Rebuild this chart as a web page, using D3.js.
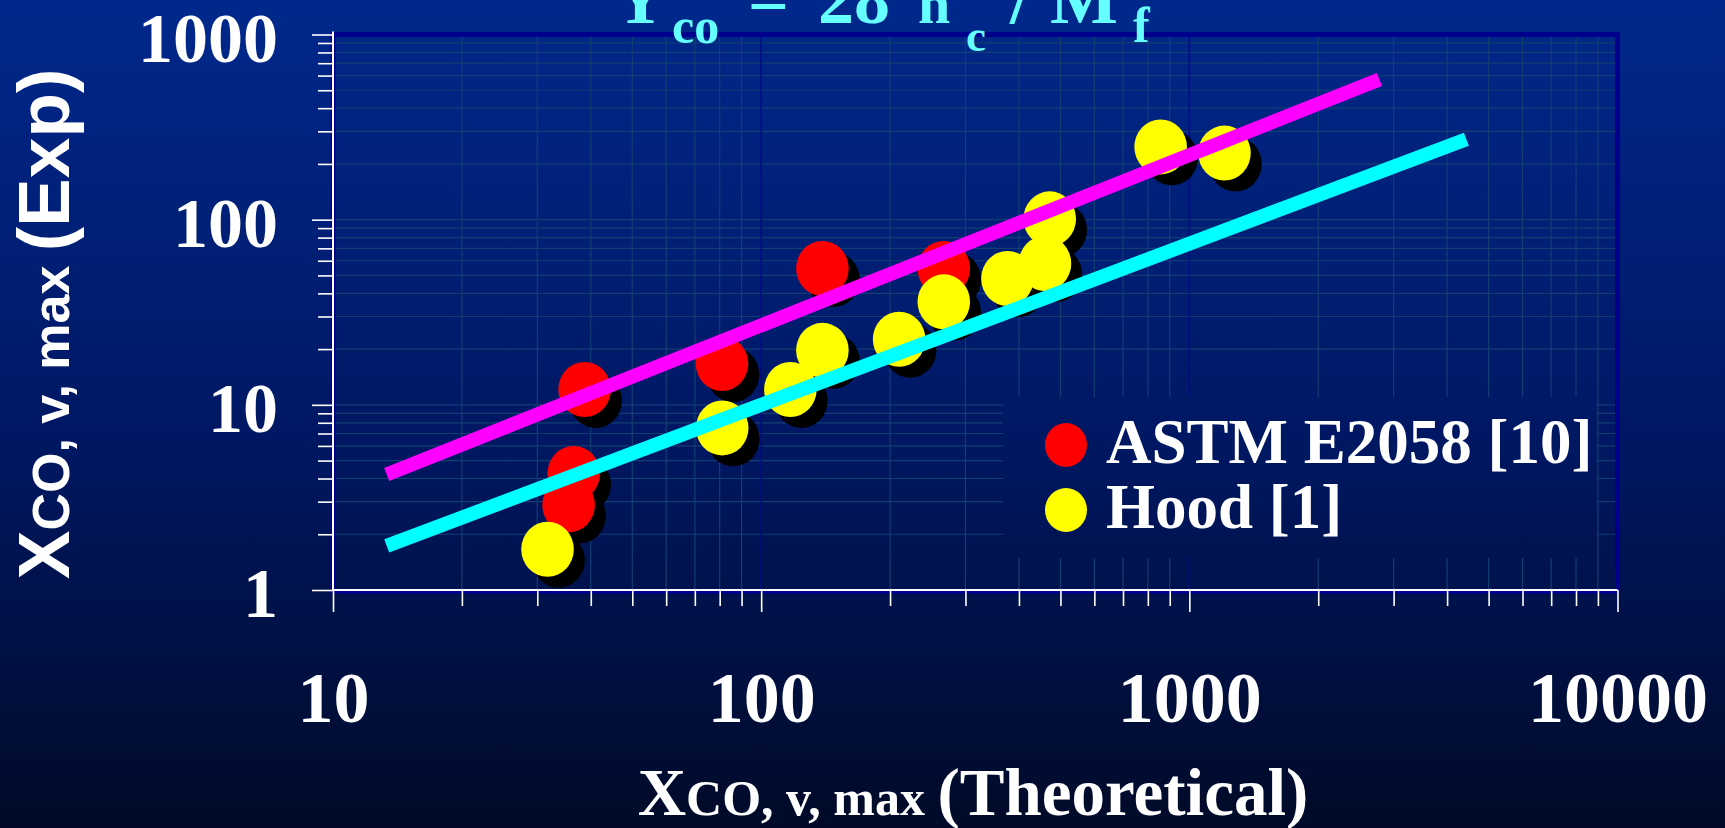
<!DOCTYPE html>
<html>
<head>
<meta charset="utf-8">
<script src="https://cdn.jsdelivr.net/npm/d3@7/dist/d3.min.js"></script>
<style>
  html, body { margin: 0; padding: 0; background: #000a2b; overflow: hidden; }
  svg { display: block; }
</style>
</head>
<body>
<svg id="chart" width="1725" height="828"></svg>
<script>
// ---- data ----
const astmX = [38.7, 36.5, 35.5, 81.0, 139, 267];
const astmY = [12.1, 4.26, 2.88, 16.7, 54.5, 54.5];
const hoodX = [31.7, 81.1, 117, 139, 210, 267, 376, 460, 472, 857, 1208];
const hoodY = [1.66, 7.5, 12.1, 19.7, 22.6, 36.0, 48.1, 58.0, 101, 247, 229];

// reference lines (end points)
const upperLineX = [13.35, 2780];
const upperLineY = [4.21, 572];
const lowerLineX = [13.35, 4436];
const lowerLineY = [1.73, 271.6];

const xTickLabels = [10, 100, 1000, 10000];
const yTickLabels = [1, 10, 100, 1000];
const legendLabels = ["ASTM E2058 [10]", "Hood [1]"];

// ---- layout ----
const W = 1725, H = 828;
const plot = { left: 333, right: 1617.5, top: 34.5, bottom: 590 };
const serif = "'Liberation Serif','Times New Roman',Times,serif";
const sans = "'Liberation Sans',Arial,Helvetica,sans-serif";

const svg = d3.select("#chart");
const defs = svg.append("defs");
const bg = defs.append("linearGradient")
  .attr("id", "bg").attr("gradientUnits", "userSpaceOnUse")
  .attr("x1", 0).attr("y1", 0).attr("x2", 0).attr("y2", H);
bg.append("stop").attr("offset", "0%").attr("stop-color", "#00288c");
bg.append("stop").attr("offset", "55%").attr("stop-color", "#001761");
bg.append("stop").attr("offset", "100%").attr("stop-color", "#000a28");

svg.append("rect").attr("width", W).attr("height", H).attr("fill", "url(#bg)");

const x = d3.scaleLog().domain([10, 10000]).range([plot.left, plot.right]);
const y = d3.scaleLog().domain([1, 1000]).range([plot.bottom, plot.top]);

// ---- grid ----
const grid = svg.append("g");
const xMinor = x.ticks().filter(v => !xTickLabels.includes(v));
const yMinor = y.ticks().filter(v => !yTickLabels.includes(v));
const yInner = y.ticks().filter(v => v > 1 && v < 1000);

grid.selectAll("line.hg").data(yInner).join("line")
  .attr("x1", plot.left).attr("x2", plot.right)
  .attr("y1", d => y(d)).attr("y2", d => y(d))
  .attr("stroke", "#123e72").attr("stroke-width", 1.2);
grid.selectAll("line.vg").data(xMinor).join("line")
  .attr("y1", plot.top).attr("y2", plot.bottom)
  .attr("x1", d => x(d)).attr("x2", d => x(d))
  .attr("stroke", "#123e72").attr("stroke-width", 1.2);
grid.selectAll("line.vmaj").data(xTickLabels.filter(v => v > 10 && v < 10000)).join("line")
  .attr("y1", plot.top).attr("y2", plot.bottom)
  .attr("x1", d => x(d)).attr("x2", d => x(d))
  .attr("stroke", "#000a8c").attr("stroke-width", 1.6);

// legend backdrop hides the grid behind it
svg.append("rect")
  .attr("x", 1003).attr("y", 397).attr("width", 594).attr("height", 161)
  .attr("fill", "url(#bg)");

// plot frame
svg.append("rect")
  .attr("x", plot.left).attr("y", plot.top)
  .attr("width", plot.right - plot.left).attr("height", plot.bottom + 1.5 - plot.top)
  .attr("fill", "none").attr("stroke", "#00008c").attr("stroke-width", 5);

// ---- markers ----
function drawSeries(xs, ys, color) {
  const pts = xs.map((v, i) => [v, ys[i]]);
  const g = svg.append("g");
  g.selectAll("ellipse.sh").data(pts).join("ellipse")
    .attr("cx", d => x(d[0]) + 11).attr("cy", d => y(d[1]) + 11)
    .attr("rx", 26.3).attr("ry", 27.5).attr("fill", "#000");
  g.selectAll("ellipse.mk").data(pts).join("ellipse")
    .attr("cx", d => x(d[0])).attr("cy", d => y(d[1]))
    .attr("rx", 26.3).attr("ry", 27.5).attr("fill", color);
}
drawSeries(astmX, astmY, "#ff0000");
drawSeries(hoodX, hoodY, "#ffff00");

// ---- reference lines ----
const line = d3.line().x(d => x(d[0])).y(d => y(d[1]));
svg.append("path")
  .attr("d", line(upperLineX.map((v, i) => [v, upperLineY[i]])))
  .attr("stroke", "#ff00ff").attr("stroke-width", 14).attr("fill", "none");
svg.append("path")
  .attr("d", line(lowerLineX.map((v, i) => [v, lowerLineY[i]])))
  .attr("stroke", "#00ffff").attr("stroke-width", 14).attr("fill", "none");

// ---- axes ----
function styleAxis(g) {
  g.select(".domain").remove();
  g.selectAll("line").attr("stroke", "#ffffff").attr("stroke-width", 1.6);
}
svg.append("g").attr("transform", `translate(${plot.left},0)`)
  .call(d3.axisLeft(y).tickValues(yMinor).tickSize(15).tickFormat(""))
  .call(styleAxis);
svg.append("g").attr("transform", `translate(${plot.left},0)`)
  .call(d3.axisLeft(y).tickValues(yTickLabels).tickSize(21).tickPadding(34).tickFormat(d3.format("d")))
  .call(styleAxis)
  .call(g => g.selectAll("text")
    .attr("fill", "#fff").attr("font-family", serif).attr("font-weight", "bold")
    .attr("font-size", 70).attr("dy", "0.38em"));

svg.append("g").attr("transform", `translate(0,${plot.bottom})`)
  .call(d3.axisBottom(x).tickValues(xMinor).tickSize(16).tickFormat(""))
  .call(styleAxis);
svg.append("g").attr("transform", `translate(0,${plot.bottom})`)
  .call(d3.axisBottom(x).tickValues(xTickLabels).tickSize(22).tickPadding(59).tickFormat(d3.format("d")))
  .call(styleAxis)
  .call(g => g.selectAll("text")
    .attr("fill", "#fff").attr("font-family", serif).attr("font-weight", "bold")
    .attr("font-size", 72).attr("dy", "0.71em"));

// axis lines
svg.append("line").attr("x1", plot.left).attr("x2", plot.left)
  .attr("y1", plot.top - 3).attr("y2", plot.bottom)
  .attr("stroke", "#fff").attr("stroke-width", 2);
svg.append("line").attr("x1", plot.left).attr("x2", plot.right)
  .attr("y1", plot.bottom).attr("y2", plot.bottom)
  .attr("stroke", "#fff").attr("stroke-width", 2);

// ---- legend ----
const legendColors = ["#ff0000", "#ffff00"];
const legend = svg.append("g");
legendLabels.forEach((label, i) => {
  const cy = 445 + i * 65;
  legend.append("ellipse").attr("cx", 1066).attr("cy", cy)
    .attr("rx", 21).attr("ry", 22).attr("fill", legendColors[i]);
  legend.append("text").attr("x", 1106).attr("y", cy + 18)
    .attr("fill", "#fff").attr("font-family", serif).attr("font-weight", "bold")
    .attr("font-size", 63).text(label);
});

// ---- axis titles ----
const xt = svg.append("text").attr("x", 973).attr("y", 815)
  .attr("text-anchor", "middle").attr("fill", "#fff")
  .attr("font-family", serif).attr("font-weight", "bold");
xt.append("tspan").attr("font-size", 67).text("X");
xt.append("tspan").attr("font-size", 50).text("CO, v, max ");
xt.append("tspan").attr("font-size", 67).text("(Theoretical)");

const yt = svg.append("text").attr("transform", "translate(69,324) rotate(-90)")
  .attr("text-anchor", "middle").attr("fill", "#fff")
  .attr("font-family", sans).attr("font-weight", "bold");
yt.append("tspan").attr("font-size", 73).text("X");
yt.append("tspan").attr("font-size", 52).text("CO, v, max ");
yt.append("tspan").attr("font-size", 73).text("(Exp)");

// ---- title: Y_co = 28 n_c / M_f ----
const title = svg.append("g").attr("fill", "#66ffff")
  .attr("font-family", serif).attr("font-weight", "bold");
const titleParts = [
  { t: "Y", x: 614, y: 23, s: 72 },
  { t: "co", x: 672, y: 43, s: 50 },
  { t: "=", x: 748, y: 23, s: 72 },
  { t: "28", x: 818, y: 23, s: 72 },
  { t: "n", x: 918, y: 23, s: 58 },
  { t: "c", x: 966, y: 51, s: 45 },
  { t: "/", x: 1010, y: 23, s: 72 },
  { t: "M", x: 1050, y: 23, s: 72 },
  { t: "f", x: 1133, y: 42, s: 50 }
];
titleParts.forEach(p => {
  title.append("text").attr("x", p.x).attr("y", p.y).attr("font-size", p.s).text(p.t);
});
</script>
</body>
</html>
